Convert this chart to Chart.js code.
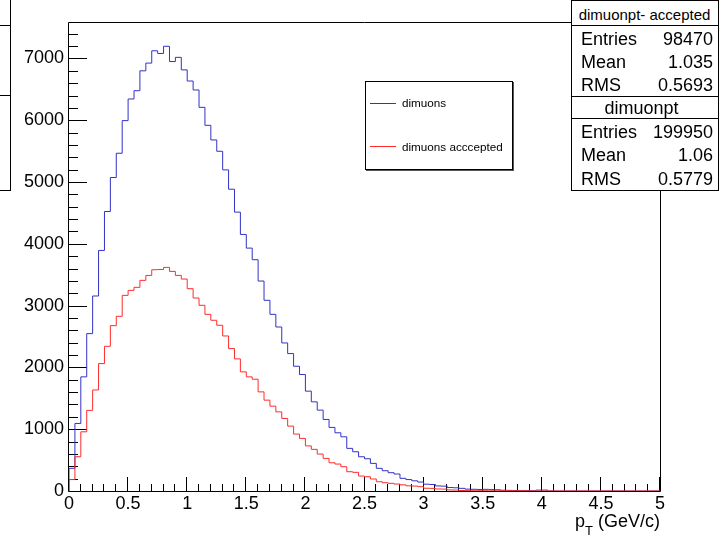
<!DOCTYPE html>
<html>
<head>
<meta charset="utf-8">
<script src="https://cdn.jsdelivr.net/npm/chart.js@4/dist/chart.umd.min.js"></script>
<style>
html,body{margin:0;padding:0;background:#fff;}
#wrap{position:relative;width:719px;height:537px;overflow:hidden;font-family:"Liberation Sans",Arial,Helvetica,sans-serif;color:#000;}
#c{position:absolute;left:0;top:0;}
.abs{position:absolute;white-space:nowrap;}
.ln{position:absolute;background:#000;}
</style>
</head>
<body>
<div id="wrap">
<canvas id="c" width="719" height="537"></canvas>
</div>
<script>
// ---- data (bin width 0.05 GeV/c, 100 bins from 0 to 5) ----
const binWidth = 0.05;
const dimuonsAll = [
  367, 1093, 1847, 2547, 3156, 3893, 4523, 5073, 5466, 5994,
  6344, 6478, 6800, 6925, 7124, 7081, 7197, 6950, 7018, 6815,
  6635, 6490, 6209, 5918, 5681, 5498, 5197, 4884, 4513, 4152,
  3931, 3743, 3398, 3086, 2859, 2654, 2396, 2224, 2019, 1885,
  1616, 1443, 1309, 1158, 1029, 942, 877, 690, 635, 554,
  522, 447, 367, 328, 296, 275, 205, 185, 165, 145,
  110, 105, 82, 78, 56, 52, 43, 30, 28, 25,
  27, 22, 20, 12, 10, 8, 6, 5, 4, 14,
  15, 0, 0, 0, 0, 0, 0, 0, 0, 0,
  0, 0, 0, 0, 0, 0, 0, 0, 0, 0
];
const dimuonsAccepted = [
  185, 555, 958, 1305, 1635, 2062, 2342, 2676, 2827, 3166,
  3247, 3296, 3409, 3489, 3581, 3585, 3619, 3554, 3489, 3430,
  3274, 3123, 3005, 2859, 2763, 2682, 2509, 2305, 2138, 1928,
  1847, 1809, 1604, 1470, 1373, 1281, 1174, 1050, 921, 851,
  730, 674, 598, 528, 457, 436, 393, 312, 302, 242,
  231, 194, 150, 134, 124, 113, 100, 84, 80, 70,
  45, 42, 33, 31, 17, 15, 8, 6, 5, 5,
  4, 3, 3, 6, 5, 5, 4, 4, 0, 0,
  0, 0, 0, 0, 0, 0, 0, 0, 0, 0,
  0, 0, 0, 0, 0, 0, 0, 0, 0, 0
];
const seriesLabels = ["dimuons", "dimuons acccepted"];
const xTickValues = [0, 0.5, 1, 1.5, 2, 2.5, 3, 3.5, 4, 4.5, 5];
const yTickValues = [0, 1000, 2000, 3000, 4000, 5000, 6000, 7000];
const xMin = 0, xMax = 5, yMax = 7590;
const statsTitles = ["dimuonpt- accepted", "dimuonpt"];
const statsLabels = ["Entries", "Mean", "RMS"];
const statsAccepted = ["98470", "1.035", "0.5693"];
const statsAll = ["199950", "1.06", "0.5779"];

const BLUE = "#3232c8";
const RED = "#ff2b2b";
const FONT = "'Liberation Sans', Arial, Helvetica, sans-serif";

function toSteps(vals) {
  const pts = [{x: xMin, y: 0}];
  vals.forEach((v, i) => pts.push({x: xMin + i * binWidth, y: v}));
  pts.push({x: xMin + vals.length * binWidth, y: 0});
  return pts;
}

const frameTicks = {
  id: 'frameTicks',
  beforeDatasetsDraw(chart) {
    const {ctx, chartArea: a, scales: {x, y}} = chart;
    ctx.save();
    ctx.strokeStyle = '#000';
    ctx.lineWidth = 1;
    ctx.beginPath();
    ctx.rect(Math.round(a.left) - 0.5, Math.round(a.top) + 0.5, Math.round(a.right - a.left) + 1, Math.round(a.bottom - a.top));
    ctx.stroke();
    // x ticks every 0.1, major every 0.5
    ctx.beginPath();
    for (let k = 0; k <= 50; k++) {
      const px = Math.round(x.getPixelForValue(k / 10)) - 0.5;
      const len = (k % 5 === 0) ? 14 : 7;
      ctx.moveTo(px, a.bottom);
      ctx.lineTo(px, a.bottom - len);
    }
    // y ticks every 200, major every 1000
    for (let v = 0; v <= yMax; v += 200) {
      const py = Math.round(y.getPixelForValue(v)) + 0.5;
      const len = (v % 1000 === 0) ? 18 : 9;
      ctx.moveTo(a.left, py);
      ctx.lineTo(a.left + len, py);
    }
    ctx.stroke();
    ctx.restore();
  }
};

const chart = new Chart(document.getElementById('c'), {
  type: 'line',
  data: {
    datasets: [
      {label: seriesLabels[1], data: toSteps(dimuonsAccepted), borderColor: RED, borderWidth: 1, stepped: 'before', pointRadius: 0, fill: false},
      {label: seriesLabels[0], data: toSteps(dimuonsAll), borderColor: BLUE, borderWidth: 1, stepped: 'before', pointRadius: 0, fill: false}
    ]
  },
  options: {
    responsive: false,
    animation: false,
    devicePixelRatio: 1,
    layout: {padding: {left: 0, top: 22, right: 59, bottom: 0}},
    plugins: {legend: {display: false}, tooltip: {enabled: false}},
    scales: {
      x: {
        type: 'linear', min: xMin, max: xMax,
        afterBuildTicks: s => { s.ticks = xTickValues.map(v => ({value: v})); },
        afterFit: s => { s.height = 46; },
        grid: {display: false, drawTicks: false},
        border: {display: false},
        ticks: {color: '#000', padding: 2, maxRotation: 0, autoSkip: false, font: {family: FONT, size: 18}, callback: v => String(v)}
      },
      y: {
        type: 'linear', min: 0, max: yMax,
        afterBuildTicks: s => { s.ticks = yTickValues.map(v => ({value: v})); },
        afterFit: s => { s.width = 69; },
        grid: {display: false, drawTicks: false},
        border: {display: false},
        ticks: {color: '#000', padding: 5, font: {family: FONT, size: 18}, callback: v => String(v)}
      }
    }
  },
  plugins: [frameTicks]
});

// ---- overlays: stats boxes, legend, axis title ----
const wrap = document.getElementById('wrap');
function add(html, css, cls) {
  const d = document.createElement('div');
  d.className = cls || 'abs';
  d.style.cssText = css;
  if (html !== null) d.textContent = html;
  wrap.appendChild(d);
  return d;
}
// partial box at the left edge
add(null, 'left:-140px;top:-1px;width:151px;height:192px;border:1px solid #000;box-sizing:border-box;background:#fff;', 'abs');
add(null, 'left:0;top:25px;width:10px;height:1px;', 'ln');
add(null, 'left:0;top:95px;width:10px;height:1px;', 'ln');

// stats box
add(null, 'left:571px;top:0;width:148px;height:191px;border:1px solid #000;box-sizing:border-box;background:#fff;', 'abs');
add(null, 'left:571px;top:25px;width:148px;height:1px;', 'ln');
add(null, 'left:571px;top:96px;width:148px;height:1px;', 'ln');
add(null, 'left:571px;top:118px;width:148px;height:1px;', 'ln');
add(statsTitles[0], 'left:571px;width:147px;text-align:center;top:5px;line-height:20px;font-size:15px;');
add(statsTitles[1], 'left:568px;width:147px;text-align:center;top:98px;line-height:20px;font-size:18px;');
const rowsA = [28.5, 51.5, 75];
const rowsB = [121.5, 145, 169];
statsLabels.forEach((lab, i) => {
  add(lab, `left:581px;top:${rowsA[i]}px;line-height:20px;font-size:18px;`);
  add(statsAccepted[i], `right:${719 - 713}px;top:${rowsA[i]}px;line-height:20px;font-size:18px;text-align:right;`);
  add(lab, `left:581px;top:${rowsB[i]}px;line-height:20px;font-size:18px;`);
  add(statsAll[i], `right:${719 - 713}px;top:${rowsB[i]}px;line-height:20px;font-size:18px;text-align:right;`);
});

// legend
add(null, 'left:365px;top:81px;width:148px;height:89px;border:1px solid #000;box-sizing:border-box;background:transparent;box-shadow:1px 1px 0 #555;', 'abs');
add(null, `left:370px;top:103px;width:26px;height:1px;background:${BLUE};`, 'ln');
add(null, `left:370px;top:146px;width:26px;height:1px;background:${RED};`, 'ln');
add(seriesLabels[0], 'left:402px;top:95px;line-height:16px;font-size:11.7px;');
add(seriesLabels[1], 'left:402px;top:138.5px;line-height:16px;font-size:11.7px;');

// x axis title p_T (GeV/c)
const t = add(null, 'right:59px;top:512px;line-height:18px;font-size:18px;', 'abs');
t.innerHTML = 'p<span style="font-size:13px;line-height:0;position:relative;top:8px;">T</span> (GeV/c)';
</script>
</body>
</html>
